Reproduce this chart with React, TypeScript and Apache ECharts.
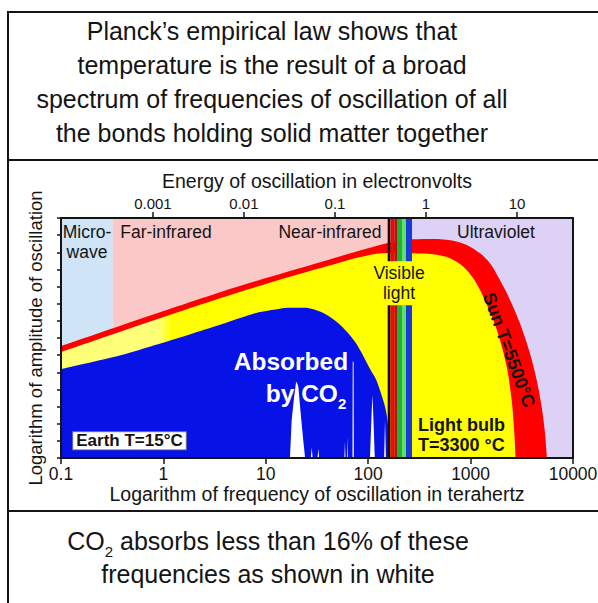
import React, { useEffect, useRef } from "react";
import * as echarts from "echarts";

// ---------- data ----------
const titleLines = [
  "Planck’s empirical law shows that",
  "temperature is the result of a broad",
  "spectrum of frequencies of oscillation of all",
  "the bonds holding solid matter together",
];
const footerLines = ["CO{sub|2} absorbs less than 16% of these", "frequencies as shown in white"];

// frequency axis (THz, log)
const freqTickLabels = ["0.1", "1", "10", "100", "1000", "10000"];
const freqRange = [0.1, 10000];
// energy axis (log10 eV, as drawn)
const energyTickValues = [-3, -2, -1, 0, 1];
const energyTickLabels = ["0.001", "0.01", "0.1", "1", "10"];
const energyRange = [-4.01, 1.615];
// amplitude axis (log, unlabelled)
const amplitudeRange = [0, 14];

// spectral regions (THz)
const regionNames = ["Micro-\nwave", "Far-infrared", "Near-infrared", "Visible\nlight", "Ultraviolet"];
const regionBands = [
  [0.1, 0.32],
  [0.32, 156],
  [268, 10000],
];
const regionColors = ["#cfe4f7", "#fbc8c8", "#ddd1f5"];

// visible-light stripes (THz)
const visibleEdges = [155, 165, 182, 191, 214, 234, 268];
const visibleColors = ["#1a0808", "#ea0a0a", "#a81818", "#1fb335", "#5fe06a", "#1a3ad6"];

// curves: [frequency THz, log amplitude]
const sunCurve = [
  [0.1, 6.53], [3.71, 9.7], [35.2, 11.45], [156, 12.54], [274, 12.76], [432, 12.78],
  [678, 12.68], [916, 12.43], [1236, 11.94], [1546, 11.36], [1936, 10.38], [2425, 9.22],
  [3034, 7.86], [3800, 6.11], [4418, 4.55], [4944, 2.99], [5330, 1.44], [5570, 0],
];
const bulbCurve = [
  [0.1, 6.18], [3.71, 9.35], [35.2, 11.1], [156, 11.96], [275, 11.94], [432, 11.88],
  [630, 11.65], [849, 11.16], [1062, 10.48], [1331, 9.41], [1667, 8.05], [1936, 6.88],
  [2253, 5.33], [2518, 3.38], [2673, 1.44], [2754, 0],
];
const earthCurve = [
  [0.1, 5.19], [0.39, 6.01], [0.83, 6.59], [1.74, 7.18], [3.71, 7.8], [7.85, 8.44],
  [11.4, 8.63], [16.5, 8.77], [24.1, 8.77], [35.2, 8.5], [51.1, 7.86], [74.3, 6.78],
  [108, 5.03], [120, 4.55], [146, 2.99], [157, 1.83], [163, 0],
];
const co2Absorption = [
  [17.2, 0], [17.9, 2.22], [18.9, 3.58], [19.7, 4.38], [20.0, 4.45], [20.8, 4.16],
  [21.9, 2.63], [23.2, 1.05], [24.2, 0],
  [27.5, 0], [28.1, 0.6], [28.7, 0],
  [32.0, 0], [32.6, 0.55], [33.2, 0],
  [58.5, 0], [59.3, 0.95], [60.0, 0],
  [62.0, 0], [62.5, 1.24], [63.2, 0],
  [70.2, 0], [70.6, 5.62], [72.0, 5.62], [72.4, 0],
  [104, 0], [108, 2.6], [110, 3.68], [112, 2.6], [116, 0],
  [143, 0], [146, 2.22], [149, 0],
];

const FONT = "'Liberation Sans', Arial, Helvetica, sans-serif";
const INK = "#141414";

function areaSeries(data: number[][], color: any, z: number, smooth: number | boolean) {
  return {
    type: "line",
    data,
    smooth,
    symbol: "none",
    silent: true,
    z,
    lineStyle: { width: 0, opacity: 0 },
    areaStyle: { color, opacity: 1 },
  };
}

function buildOption() {
  const top = amplitudeRange[1];
  const series: any[] = [];
  regionBands.forEach((b, i) => series.push(areaSeries([[b[0], top], [b[1], top]], regionColors[i], 1, false)));
  series.push(areaSeries(sunCurve, "#ff0000", 2, 0.3));
  const bulbFill = {
    type: "linear",
    x: 0,
    y: 0,
    x2: 1,
    y2: 0,
    colorStops: [
      { offset: 0, color: "#ffff78" },
      { offset: 0.215, color: "#ffff78" },
      { offset: 0.245, color: "#ffff00" },
      { offset: 1, color: "#ffff00" },
    ],
  };
  series.push(areaSeries(bulbCurve, bulbFill, 3, 0.3));
  series.push(areaSeries(earthCurve, "#0712e6", 4, 0.3));
  series.push(areaSeries(co2Absorption, "#ffffff", 5, false));
  visibleColors.forEach((c, i) =>
    series.push(areaSeries([[visibleEdges[i], top], [visibleEdges[i + 1], top]], c, 6, false))
  );

  const txt = (x: number, y: number, text: string, extra: any = {}, el: any = {}) => ({
    type: "text",
    x,
    y,
    z: 100,
    silent: true,
    ...el,
    style: {
      text,
      fontFamily: FONT,
      fontSize: 17.5,
      fill: INK,
      align: "center",
      verticalAlign: "middle",
      ...extra,
    },
  });

  const graphic: any[] = [
    { type: "rect", z: 100, shape: { x: 8, y: 12, width: 640, height: 640 }, style: { fill: "none", stroke: INK, lineWidth: 2 } },
    { type: "line", z: 100, shape: { x1: 8, y1: 160, x2: 640, y2: 160 }, style: { stroke: INK, lineWidth: 2 } },
    { type: "line", z: 100, shape: { x1: 8, y1: 511, x2: 640, y2: 511 }, style: { stroke: INK, lineWidth: 2 } },
    ...titleLines.map((t, i) => txt(272, 30.5 + i * 34.2, t, { fontSize: 25 })),
    txt(268, 541, footerLines[0], {
      fontSize: 25,
      lineHeight: 36,
      rich: { sub: { fontSize: 15, lineHeight: 15, verticalAlign: "bottom", fontFamily: FONT, fill: INK } },
    }),
    txt(268, 574, footerLines[1], { fontSize: 25 }),
    // region labels
    txt(87, 241.7, regionNames[0], { lineHeight: 20 }),
    txt(166, 231.7, regionNames[1]),
    txt(330, 232, regionNames[2]),
    txt(399, 283.3, regionNames[3], { lineHeight: 20, backgroundColor: "#ffff00", padding: [2, 1] }),
    txt(496, 231.7, regionNames[4]),
    // curve labels
    txt(291, 361.7, "Absorbed", { fontSize: 24.5, fontWeight: "bold", fill: "#ffffff" }),
    txt(306, 393.3, "by CO{sub|2}", {
      fontSize: 24.5,
      fontWeight: "bold",
      fill: "#ffffff",
      lineHeight: 36,
      rich: { sub: { fontSize: 15, lineHeight: 15, verticalAlign: "bottom", fontWeight: "bold", fill: "#ffffff", fontFamily: FONT } },
    }),
    txt(129.5, 440.8, "Earth T=15°C", {
      fontSize: 17,
      fontWeight: "bold",
      backgroundColor: "#ffffff",
      borderColor: "#888888",
      borderWidth: 1,
      padding: [0, 3],
    }),
    txt(418, 435, "Light bulb\nT=3300 °C", { fontSize: 18, fontWeight: "bold", align: "left", lineHeight: 20 }),
    txt(509, 350, "Sun T=5500°C", { fontSize: 18, fontWeight: "bold" }, { rotation: -1.22 }),
  ];

  const axisLine = { show: true, onZero: false, lineStyle: { color: INK, width: 2 } };
  const tickStyle = { color: INK, width: 1.5 };

  return {
    animation: false,
    backgroundColor: "#ffffff",
    grid: { left: 61, top: 218, width: 512, height: 240, outerBoundsMode: "none", containLabel: false },
    xAxis: [
      {
        type: "log",
        logBase: 10,
        min: freqRange[0],
        max: freqRange[1],
        position: "bottom",
        z: 10,
        name: "Logarithm of frequency of oscillation in terahertz",
        nameLocation: "middle",
        nameGap: 24,
        nameTextStyle: { fontSize: 19.5, color: INK, fontFamily: FONT },
        axisLine,
        axisTick: { show: true, inside: false, length: 6, lineStyle: tickStyle },
        axisLabel: {
          show: true,
          margin: 7,
          fontSize: 17.5,
          color: INK,
          fontFamily: FONT,
          formatter: (v: number) => freqTickLabels[Math.round(Math.log10(v)) + 1],
        },
        splitLine: { show: false },
        minorTick: { show: false },
      },
      {
        type: "value",
        min: energyRange[0],
        max: energyRange[1],
        position: "top",
        z: 10,
        name: "Energy of oscillation in electronvolts",
        nameLocation: "middle",
        nameGap: 27,
        nameTextStyle: { fontSize: 19.5, color: INK, fontFamily: FONT },
        axisLine,
        axisTick: { show: true, length: 6, lineStyle: tickStyle, customValues: energyTickValues },
        axisLabel: {
          show: true,
          margin: 7,
          fontSize: 15,
          color: INK,
          fontFamily: FONT,
          customValues: energyTickValues,
          formatter: (v: number) => energyTickLabels[energyTickValues.indexOf(Math.round(v))],
        },
        splitLine: { show: false },
      },
    ],
    yAxis: [
      {
        type: "value",
        min: amplitudeRange[0],
        max: amplitudeRange[1],
        interval: 1,
        position: "left",
        z: 10,
        name: "Logarithm of amplitude of oscillation",
        nameLocation: "middle",
        nameGap: 16,
        nameTextStyle: { fontSize: 18.5, color: INK, fontFamily: FONT },
        axisLine,
        axisTick: { show: true, length: 4, lineStyle: tickStyle },
        axisLabel: { show: false },
        splitLine: { show: false },
      },
      {
        type: "value",
        position: "right",
        min: amplitudeRange[0],
        max: amplitudeRange[1],
        z: 10,
        axisLine,
        axisTick: { show: false },
        axisLabel: { show: false },
        splitLine: { show: false },
      },
    ],
    series,
    graphic,
  };
}

export default function App() {
  const ref = useRef<HTMLDivElement>(null);
  useEffect(() => {
    if (!ref.current) return;
    const chart = echarts.init(ref.current, null, { renderer: "svg" });
    chart.setOption(buildOption() as any);
    return () => chart.dispose();
  }, []);
  return (
    <div
      ref={ref}
      style={{ position: "fixed", left: 0, top: 0, width: 598, height: 603, background: "#ffffff" }}
    />
  );
}
